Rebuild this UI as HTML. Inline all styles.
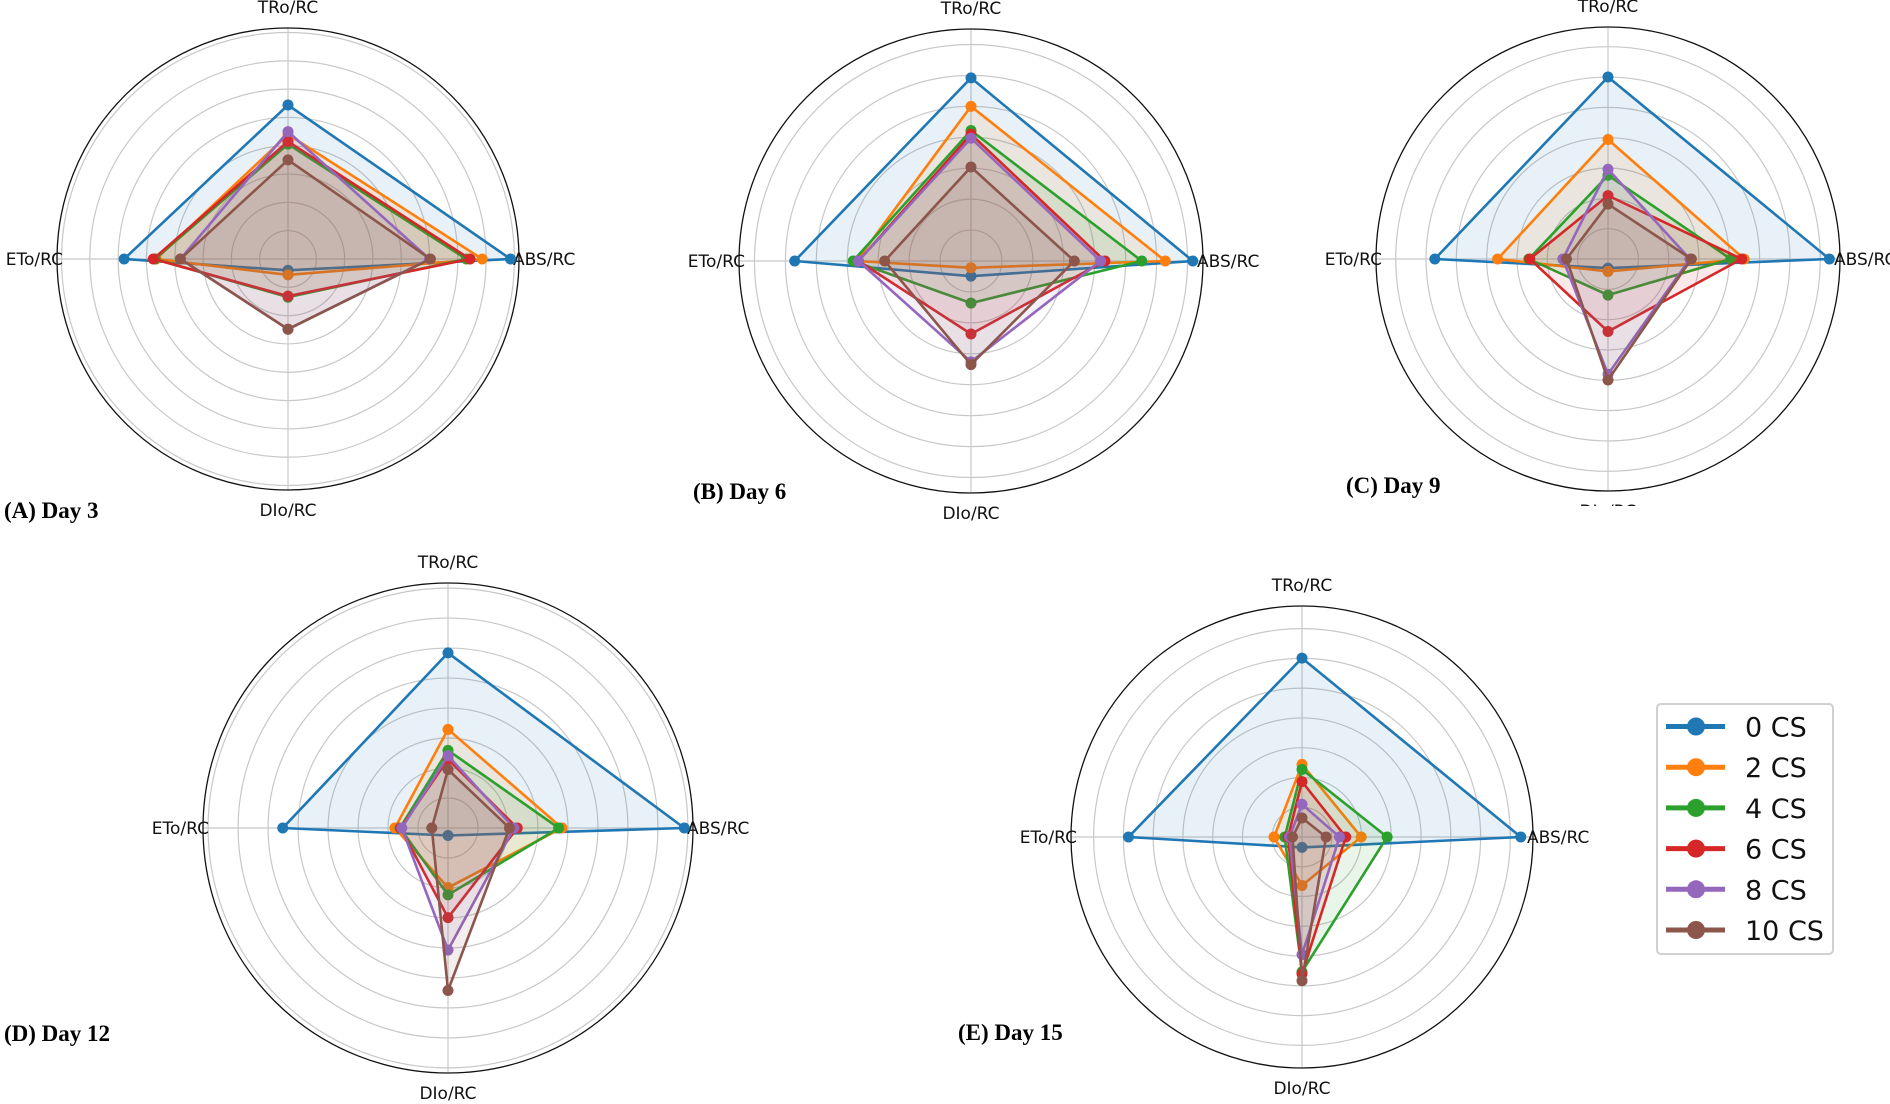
<!DOCTYPE html>
<html><head><meta charset="utf-8">
<style>
html,body{margin:0;padding:0;background:#fff;}
svg{display:block;}
.ax{font-family:"DejaVu Sans","Liberation Sans",sans-serif;font-size:17px;fill:#111;}
.ttl{font-family:"Liberation Serif",serif;font-weight:bold;font-size:23px;fill:#000;}
.lg{font-family:"DejaVu Sans","Liberation Sans",sans-serif;font-size:27px;fill:#111;}
</style></head>
<body>
<svg id="fig" width="1890" height="1104" viewBox="0 0 1890 1104" xmlns="http://www.w3.org/2000/svg"></svg>
<script>
// Axis categories (order: right, top, left, bottom)
const categories = ["ABS/RC", "TRo/RC", "ETo/RC", "DIo/RC"];
const seriesNames = ["0 CS", "2 CS", "4 CS", "6 CS", "8 CS", "10 CS"];
const panelTitles = ["(A) Day 3", "(B) Day 6", "(C) Day 9", "(D) Day 12", "(E) Day 15"];
// values per series: [ABS/RC, TRo/RC, ETo/RC, DIo/RC]
const day3 = [[7.86,5.44,5.79,0.40],[6.86,4.40,4.66,0.56],[6.30,4.06,4.70,1.35],[6.43,4.15,4.76,1.31],[5.00,4.50,3.80,2.48],[5.03,3.50,3.80,2.48]];
const day6 = [[7.17,5.92,5.70,0.49],[6.28,5.00,3.70,0.22],[5.52,4.22,3.81,1.36],[4.33,4.10,3.64,2.36],[4.19,3.97,3.64,3.26],[3.34,3.04,2.79,3.35]];
const day9 = [[7.30,6.00,5.71,0.30],[4.49,3.94,3.64,0.41],[4.05,2.76,2.61,1.19],[4.41,2.09,2.58,2.39],[2.70,2.96,1.49,3.80],[2.75,1.81,1.37,3.99]];
const day12 = [[7.88,5.84,5.51,0.25],[3.80,3.29,1.77,1.99],[3.69,2.59,1.60,2.23],[2.31,2.29,1.58,2.99],[2.20,2.41,1.54,4.07],[2.05,1.95,0.54,5.42]];
const day15 = [[7.35,6.01,5.83,0.35],[1.99,2.44,0.94,1.63],[2.86,2.27,0.58,4.53],[1.47,1.86,0.47,4.60],[1.26,1.10,0.42,3.95],[0.81,0.64,0.32,4.83]];
const panelData = [day3, day6, day9, day12, day15];

const colors = ["#1f77b4","#ff7f0e","#2ca02c","#d62728","#9467bd","#8c564b"];
const layout = [
  {cx:288, cy:259, R:231, rmax:8.16, tx:4,   ty:518},
  {cx:971, cy:261, R:232, rmax:7.5,  tx:693, ty:499},
  {cx:1608,cy:259, R:232, rmax:7.65, tx:1346,ty:493},
  {cx:448, cy:828, R:245, rmax:8.17, tx:4,   ty:1041},
  {cx:1302,cy:837, R:231, rmax:7.76, tx:958, ty:1040}
];
const NS = "http://www.w3.org/2000/svg";
const svg = document.getElementById("fig");
function mk(tag, attrs, parent){
  const e = document.createElementNS(NS, tag);
  for (const k in attrs) e.setAttribute(k, attrs[k]);
  (parent||svg).appendChild(e);
  return e;
}
const angles = [0, Math.PI/2, Math.PI, 3*Math.PI/2];
layout.forEach((L, p) => {
  const g = mk("g", {});
  
  
  const rScale = v => v / L.rmax * L.R;
  const px = (v, i) => L.cx + Math.cos(angles[i]) * rScale(v);
  const py = (v, i) => L.cy - Math.sin(angles[i]) * rScale(v);
  for (let k = 1; k <= Math.floor(L.rmax); k++) {
    const c = mk("circle", {cx:L.cx, cy:L.cy, r:rScale(k), fill:"none", stroke:"#c8c8c8", "stroke-width":1.2}, g);
    
    
  }
  angles.forEach((a, i) => {
    const s = mk("line", {x1:L.cx, y1:L.cy, x2:px(L.rmax, i), y2:py(L.rmax, i), stroke:"#c8c8c8", "stroke-width":1.2}, g);
    
    
  });
  const oc = mk("circle", {cx:L.cx, cy:L.cy, r:L.R, fill:"none", stroke:"#111", "stroke-width":1.3}, g);
  
  
  const lab = [
    {x:L.cx+L.R-6, y:L.cy+6, a:"start"},
    {x:L.cx, y:L.cy-L.R-15, a:"middle"},
    {x:L.cx-L.R+6, y:L.cy+6, a:"end"},
    {x:L.cx, y:L.cy+L.R+26, a:"middle"}
  ];
  categories.forEach((c, i) => {
    const t = mk("text", {x:lab[i].x, y:lab[i].y, "text-anchor":lab[i].a, class:"ax"}, g);
    t.textContent = c;
    
    
  });
  const data = panelData[p];
  data.forEach((vals, s) => {
    const pts = vals.map((v, i) => px(v, i).toFixed(1) + "," + py(v, i).toFixed(1)).join(" ");
    const poly = mk("polygon", {points:pts, fill:colors[s], "fill-opacity":0.1, stroke:colors[s], "stroke-width":2.6, "stroke-linejoin":"miter"}, g);
    
    
    vals.forEach((v, i) => {
      const m = mk("circle", {cx:px(v, i), cy:py(v, i), r:5.5, fill:colors[s]}, g);
      
      
    });
  });
  const tt = mk("text", {x:L.tx, y:L.ty, class:"ttl"}, g);
  tt.textContent = panelTitles[p];
  
  
});
const cover = mk("rect", {x:1540, y:506, width:150, height:30, fill:"#fff"});


const lg = mk("g", {});


const box = mk("rect", {x:1657, y:704, width:176, height:250, rx:4, fill:"#fff", stroke:"#d0d0d0", "stroke-width":2}, lg);


seriesNames.forEach((n, s) => {
  const y = 726.5 + s * 40.7;
  const ln = mk("line", {x1:1666, y1:y, x2:1725, y2:y, stroke:colors[s], "stroke-width":5}, lg);
  
  
  const mc = mk("circle", {cx:1696, cy:y, r:9, fill:colors[s]}, lg);
  
  
  const t = mk("text", {x:1745, y:y+10, class:"lg"}, lg);
  t.textContent = n;
  
  
});
</script>
</body></html>
